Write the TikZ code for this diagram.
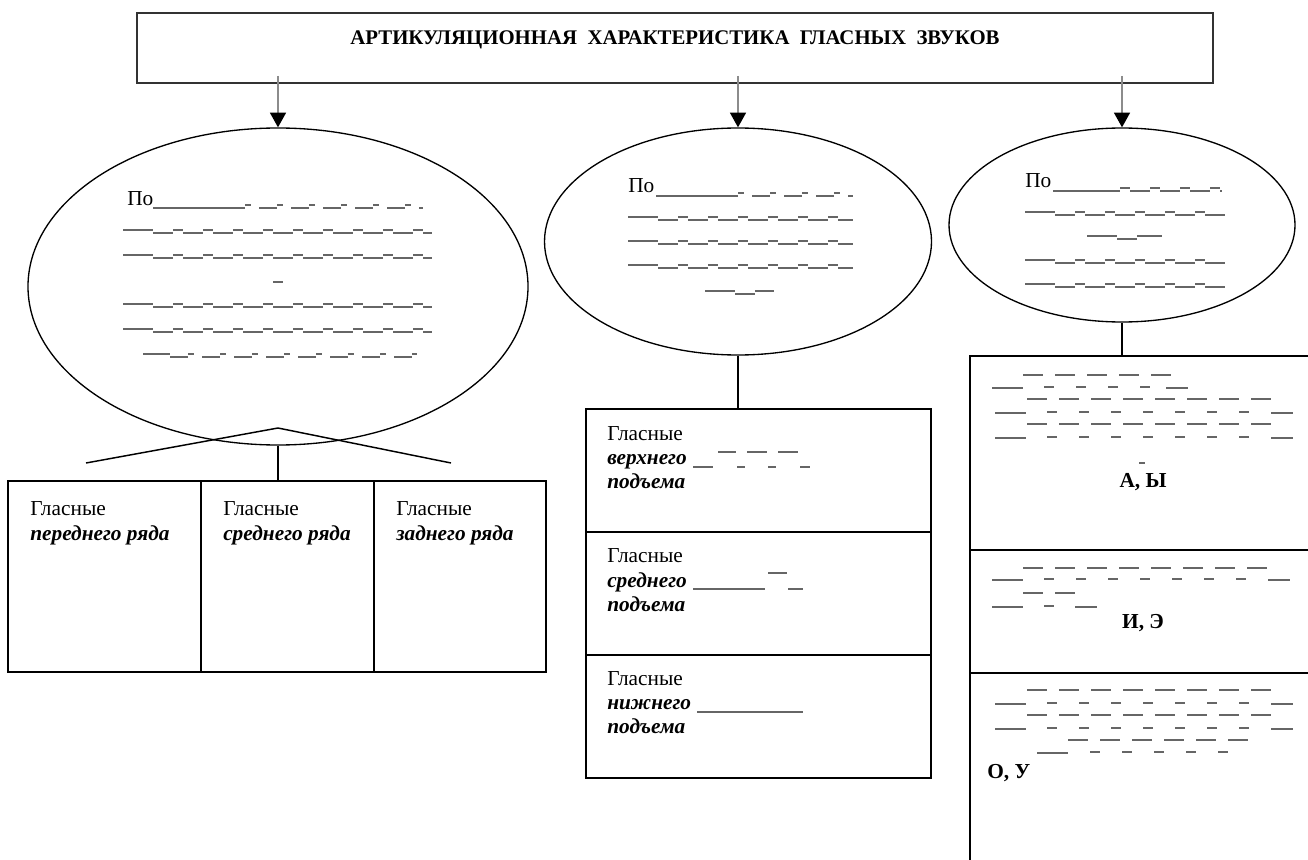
\documentclass[tikz,border=0pt]{standalone}
\usepackage{fontspec}
\setmainfont{Liberation Serif}
\usetikzlibrary{shapes.geometric,arrows.meta}
\tikzset{
 txt/.style={font=\fontsize{16pt}{18pt}\selectfont, inner sep=0pt, anchor=base west},
 bi/.style={font=\fontsize{16pt}{18pt}\selectfont\bfseries\itshape, inner sep=0pt, anchor=base west},
 bc/.style={font=\fontsize{16pt}{18pt}\selectfont\bfseries, inner sep=0pt, anchor=base},
 ttl/.style={font=\fontsize{15.6pt}{18pt}\selectfont\bfseries, inner sep=0pt, anchor=base},
 oval/.style={ellipse, draw, line width=1pt, inner sep=0pt},
 cell/.style={rectangle, draw, line width=1.6pt, inner sep=0pt},
 blank/.style={draw=black!60, line width=1.1pt},
 conn/.style={line width=1.5pt},
 arr/.style={draw=black!45, line width=1pt, -{Triangle[length=11pt,width=12pt,black]}},
}
\newcommand\erow[3]{%
 \draw[blank] (#1,#3-3) -- (#1+30,#3-3);
 \draw[blank,dash pattern=on 15pt off 7.5pt] (#1+30,#3) -- (#2,#3);
 \draw[blank,dash pattern=on 7.5pt off 15pt] (#1+50,#3-3) -- (#2,#3-3);}
\newcommand\urow[3]{%
 \draw[blank,dash pattern=on 15pt off 9pt] (#1,#3) -- (#1+32*#2-12,#3);}
\newcommand\lrow[3]{%
 \draw[blank] (#1,#3) -- (#1+31,#3);
 \draw[blank,dash pattern=on 7.5pt off 16.5pt] (#1+52,#3-1) -- (#2-30,#3-1);
 \draw[blank] (#2-22,#3) -- (#2,#3);}
\begin{document}
\begin{tikzpicture}[x=0.75pt,y=-0.75pt]
\useasboundingbox (0,0) rectangle (1308,859);
\clip (0,0) rectangle (1308,859);

% top box and title
\node[rectangle, draw=black!80, line width=1.2pt, minimum width=807pt, minimum height=52.5pt, inner sep=0pt] (top) at (675,48) {};
\node[ttl] (title) at (675,45) {АРТИКУЛЯЦИОННАЯ\ \ ХАРАКТЕРИСТИКА\ \ ГЛАСНЫХ\ \ ЗВУКОВ};

% ellipses
\node[oval, minimum width=375pt, minimum height=237.75pt] (e1) at (278,286.5) {};
\node[oval, minimum width=290.25pt, minimum height=170.25pt] (e2) at (738,241.5) {};
\node[oval, minimum width=259.5pt, minimum height=145.5pt] (e3) at (1122,225) {};

% arrows
\coordinate (s1) at (278,76);
\coordinate (s2) at (738,76);
\coordinate (s3) at (1122,76);
\draw[arr] (s1) -- (e1.north);
\draw[arr] (s2) -- (e2.north);
\draw[arr] (s3) -- (e3.north);

% left cells
\node[cell, minimum width=144.75pt, minimum height=143.25pt] (b1) at (104.5,576.5) {};
\node[cell, minimum width=129.75pt, minimum height=143.25pt] (b2) at (287.5,576.5) {};
\node[cell, minimum width=129pt, minimum height=143.25pt] (b3) at (460,576.5) {};
% middle cells
\node[cell, minimum width=258.75pt, minimum height=92.25pt] (m1) at (758.5,470.5) {};
\node[cell, minimum width=258.75pt, minimum height=92.25pt] (m2) at (758.5,593.5) {};
\node[cell, minimum width=258.75pt, minimum height=92.25pt] (m3) at (758.5,716.5) {};
% right cells
\node[cell, minimum width=277.5pt, minimum height=145.5pt] (r1) at (1155,453) {};
\node[cell, minimum width=277.5pt, minimum height=92.25pt] (r2) at (1155,611.5) {};
\node[cell, minimum width=277.5pt, minimum height=170.25pt] (r3) at (1155,786.5) {};

% connectors
\coordinate (lA) at (86,463);
\coordinate (apex) at (278,428);
\coordinate (lB) at (451,463);
\draw[line width=1.1pt] (lA) -- (apex) -- (lB);
\draw[conn] (e1.south) -- (e1.south |- b2.north);
\draw[conn] (e2.south) -- (e2.south |- m1.north);
\draw[conn] (e3.south) -- (e3.south |- r1.north);

% left ellipse text
\node[txt] (p1) at (127,206) {По};
\draw[blank] (153,208) -- (227,208);
\draw[blank,dash pattern=on 13.5pt off 10.5pt] (227,208) -- (423,208);
\draw[blank,dash pattern=on 4.5pt off 19.5pt] (245,205) -- (423,205);
\erow{123}{432}{233}
\erow{123}{432}{258}
\draw[blank] (273,282) -- (283,282);
\erow{123}{432}{307}
\erow{123}{432}{332}
\draw[blank] (143,354) -- (170,354);
\draw[blank,dash pattern=on 13.5pt off 10.5pt] (170,357) -- (417,357);
\draw[blank,dash pattern=on 4.5pt off 19.5pt] (188,354) -- (417,354);

% middle ellipse text
\node[txt] (p2) at (628,193) {По};
\draw[blank] (656,196) -- (720,196);
\draw[blank,dash pattern=on 13.5pt off 10.5pt] (720,196) -- (853,196);
\draw[blank,dash pattern=on 4.5pt off 19.5pt] (738,193) -- (853,193);
\erow{628}{853}{220}
\erow{628}{853}{244}
\erow{628}{853}{268}
\draw[blank] (705,291) -- (735,291);
\draw[blank] (735,294) -- (755,294);
\draw[blank] (755,291) -- (774,291);

% right ellipse text
\node[txt] (p3) at (1025,188) {По};
\draw[blank] (1053,191) -- (1120,191);
\draw[blank,dash pattern=on 15pt off 7.5pt] (1130,191) -- (1222,191);
\draw[blank,dash pattern=on 7.5pt off 15pt] (1120,188) -- (1222,188);
\erow{1025}{1225}{215}
\draw[blank] (1087,236) -- (1117,236);
\draw[blank] (1117,239) -- (1137,239);
\draw[blank] (1137,236) -- (1162,236);
\erow{1025}{1225}{263}
\erow{1025}{1225}{287}

% left cells text
\node[txt] (g1) at (30,515) {Гласные};
\node[bi] (h1) at (30,540) {переднего ряда};
\node[txt] (g2) at (223,515) {Гласные};
\node[bi] (h2) at (223,540) {среднего ряда};
\node[txt] (g3) at (396,515) {Гласные};
\node[bi] (h3) at (396,540) {заднего ряда};

% middle cells text
\node[txt] (g4) at (607,440) {Гласные};
\node[bi] (h4) at (607,464) {верхнего};
\node[bi] (k4) at (607,488) {подъема};
\draw[blank] (693,467) -- (713,467);
\draw[blank] (737,467) -- (745,467);
\draw[blank] (768,467) -- (776,467);
\draw[blank] (800,467) -- (810,467);
\draw[blank] (718,452) -- (736,452);
\draw[blank] (747,452) -- (767,452);
\draw[blank] (778,452) -- (798,452);

\node[txt] (g5) at (607,562) {Гласные};
\node[bi] (h5) at (607,587) {среднего};
\node[bi] (k5) at (607,611) {подъема};
\draw[blank] (693,589) -- (765,589);
\draw[blank] (768,573) -- (787,573);
\draw[blank] (788,589) -- (803,589);

\node[txt] (g6) at (607,685) {Гласные};
\node[bi] (h6) at (607,709) {нижнего};
\node[bi] (k6) at (607,733) {подъема};
\draw[blank] (697,712) -- (803,712);

% right cells text
\urow{1023}{5}{375}
\lrow{992}{1188}{388}
\urow{1027}{8}{399}
\lrow{995}{1293}{413}
\urow{1027}{8}{424}
\lrow{995}{1293}{438}
\draw[blank] (1139,463) -- (1145,463);
\node[bc] (v1) at (1143,487) {А, Ы};

\urow{1023}{8}{568}
\lrow{992}{1290}{580}
\urow{1023}{2}{593}
\lrow{992}{1097}{607}
\node[bc] (v2) at (1143,628) {И, Э};

\urow{1027}{8}{690}
\lrow{995}{1293}{704}
\urow{1027}{8}{715}
\lrow{995}{1293}{729}
\urow{1068}{6}{740}
\draw[blank] (1037,753) -- (1068,753);
\draw[blank,dash pattern=on 7.5pt off 16.5pt] (1090,752) -- (1228,752);
\node[bc, anchor=base west] (v3) at (987,778) {О, У};
\end{tikzpicture}
\end{document}
